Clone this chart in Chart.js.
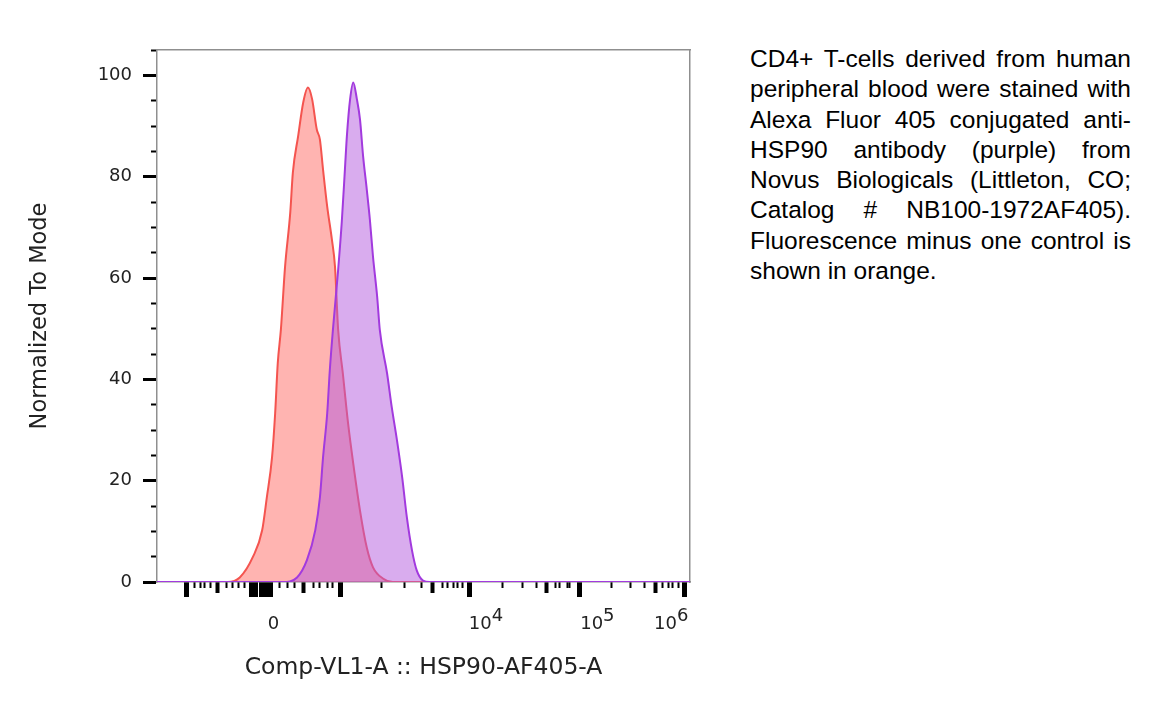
<!DOCTYPE html>
<html>
<head>
<meta charset="utf-8">
<script src="https://cdn.jsdelivr.net/npm/chart.js@4/dist/chart.umd.min.js"></script>
<style>
html,body{margin:0;padding:0;background:#fff;width:1162px;height:709px;overflow:hidden}
#wrap{position:absolute;left:0;top:0;width:720px;height:709px}
#note{position:absolute;left:750px;top:44px;width:381px;font-family:"Liberation Sans",Arial,sans-serif;font-size:24.5px;line-height:30.3px;color:#000}
#note div{text-align:justify;text-align-last:justify}
#note div.last{text-align-last:left}
</style>
</head>
<body>
<div id="wrap"><canvas id="c"></canvas></div>
<div id="note">
<div>CD4+ T-cells derived from human</div>
<div>peripheral blood were stained with</div>
<div>Alexa Fluor 405 conjugated anti-</div>
<div>HSP90 antibody (purple) from</div>
<div>Novus Biologicals (Littleton, CO;</div>
<div>Catalog # NB100-1972AF405).</div>
<div>Fluorescence minus one control is</div>
<div class="last">shown in orange.</div>
</div>
<script>
// ---- data (x in display channels 0..1024 of the biexponential axis) ----
const channelMin = 0, channelMax = 1024;
const fmoX = [0,136,159,184,202,211,221,227,232,238,246,256,261,271,281,290,298,307,313,319,327,336,342,348,357,367,377,390,403,415,434,453,1024];
const fmoY = [0,0,0.9,4.9,10.2,16.7,24.6,33.3,43.2,49.8,62.2,72.9,80.8,87.9,94.7,97.6,95.3,89.3,87.3,81.4,74.1,67.6,62.2,49.8,41.2,31.4,23.4,14.1,6.8,2.9,0.7,0,0];
const hspX = [0,242,269,288,304,313,319,327,332,338,348,355,361,365,371,377,384,390,396,403,409,415,423,428,442,451,461,471,480,490,499,511,524,1024];
const hspY = [0,0,0.9,4.3,10.2,16.7,24.6,33.3,41.8,49.8,61.6,71.1,81.4,88.3,95.3,98.6,95.3,91.3,84.0,77.5,71.5,64.2,56.3,49.8,41.2,34.5,28.0,20.7,12.8,6.2,2.3,0.3,0,0];

// ---- axis ticks ----
const xLabelAnchors = [213, 599, 813, 955];
const xTickLabels = [['', '0'], ['\u2007\u20074', '10'], ['\u2007\u20075', '10'], ['\u2007\u20076', '10']];
const xMajorTicks = [56, 181, 190, 200, 209, 219, 352, 601, 811, 1014];
const xMediumTicks = [117, 281, 530, 749, 957];
const xMinorTicks = [73, 83, 92, 102, 134, 146, 156, 169, 236, 250, 265, 300, 313, 327, 338, 432, 476, 509, 548, 559, 569, 578, 586, 663, 703, 730, 765, 774, 788, 793, 874, 909, 937, 972, 982, 991, 1001];
const yMin = 0, yMax = 105;
const yMajorTicks = [0, 20, 40, 60, 80, 100];
const yMinorTicks = [5, 10, 15, 25, 30, 35, 45, 50, 55, 65, 70, 75, 85, 90, 95, 105];

const xTitle = 'Comp-VL1-A :: HSP90-AF405-A';
const yTitle = 'Normalized To Mode';

const pts = (xs, ys) => xs.map((x, i) => ({x: x, y: ys[i]}));
const setTicks = arr => (s => { s.ticks = arr.map(v => ({value: v})); });
const frame = '#8f8f8f';
const tickFont = {family: 'DejaVu Sans', size: 18};

function markAxis(arr, len, w) {
  return {
    type: 'linear', position: {y: 0}, min: channelMin, max: channelMax,
    afterBuildTicks: setTicks(arr),
    border: {display: false},
    grid: {drawOnChartArea: false, drawTicks: true, tickLength: len, tickWidth: w, tickColor: '#000'},
    ticks: {display: false, autoSkip: false}
  };
}

new Chart(document.getElementById('c'), {
  type: 'line',
  data: {
    datasets: [
      {
        label: 'HSP90-AF405', data: pts(hspX, hspY), order: 0,
        borderColor: '#a23ade', backgroundColor: 'rgba(180,90,222,0.5)',
        borderWidth: 2, pointRadius: 0, fill: 'origin', cubicInterpolationMode: 'monotone'
      },
      {
        label: 'FMO control', data: pts(fmoX, fmoY), order: 1,
        borderColor: '#f4544f', backgroundColor: 'rgba(255,105,100,0.5)',
        borderWidth: 2, pointRadius: 0, fill: 'origin', cubicInterpolationMode: 'monotone'
      }
    ]
  },
  options: {
    responsive: true, maintainAspectRatio: false, animation: false,
    layout: {padding: {top: 50, right: 30, left: 0, bottom: 0}},
    plugins: {legend: {display: false}, tooltip: {enabled: false}},
    scales: {
      x: {
        type: 'linear', position: 'bottom', min: channelMin, max: channelMax,
        afterBuildTicks: setTicks(xLabelAnchors),
        afterFit: s => { s.height = 127; },
        border: {display: true, color: frame, width: 1.5},
        grid: {drawOnChartArea: false, drawTicks: true, tickLength: 15, tickColor: 'rgba(0,0,0,0)'},
        ticks: {
          autoSkip: false, maxRotation: 0, align: 'start', padding: 16,
          color: '#222', font: {family: 'DejaVu Sans', size: 18, lineHeight: 0.42},
          callback: (v, i) => xTickLabels[i]
        },
        title: {display: true, text: xTitle, color: '#222', font: {family: 'DejaVu Sans', size: 23.5}, padding: {top: 0, bottom: 27}}
      },
      xTop: {
        type: 'linear', position: 'top', min: channelMin, max: channelMax,
        afterFit: s => { s.height = 0; },
        border: {display: true, color: frame, width: 1.5},
        grid: {drawOnChartArea: false, drawTicks: false},
        ticks: {display: false}
      },
      xMaj: markAxis(xMajorTicks, 15, 5),
      xMed: markAxis(xMediumTicks, 11, 4),
      xMin: markAxis(xMinorTicks, 6, 2),
      y: {
        type: 'linear', position: 'left', min: yMin, max: yMax,
        afterBuildTicks: setTicks(yMajorTicks),
        afterFit: s => { s.width = 157; },
        border: {display: true, color: frame, width: 1.5},
        grid: {drawOnChartArea: false, drawTicks: true, tickLength: 14, tickWidth: 3, tickColor: '#000'},
        ticks: {padding: 11, color: '#222', font: tickFont},
        title: {display: true, text: yTitle, color: '#222', font: {family: 'DejaVu Sans', size: 22.5}, padding: {top: 27, bottom: 0}}
      },
      yRight: {
        type: 'linear', position: 'right', min: yMin, max: yMax,
        afterFit: s => { s.width = 0; },
        border: {display: true, color: frame, width: 1.5},
        grid: {drawOnChartArea: false, drawTicks: false},
        ticks: {display: false}
      },
      yMinor: {
        type: 'linear', position: {x: 0}, min: yMin, max: yMax,
        afterBuildTicks: setTicks(yMinorTicks),
        border: {display: false},
        grid: {drawOnChartArea: false, drawTicks: true, tickLength: 6, tickWidth: 2, tickColor: '#000'},
        ticks: {display: false, autoSkip: false}
      }
    }
  }
});
</script>
</body>
</html>
